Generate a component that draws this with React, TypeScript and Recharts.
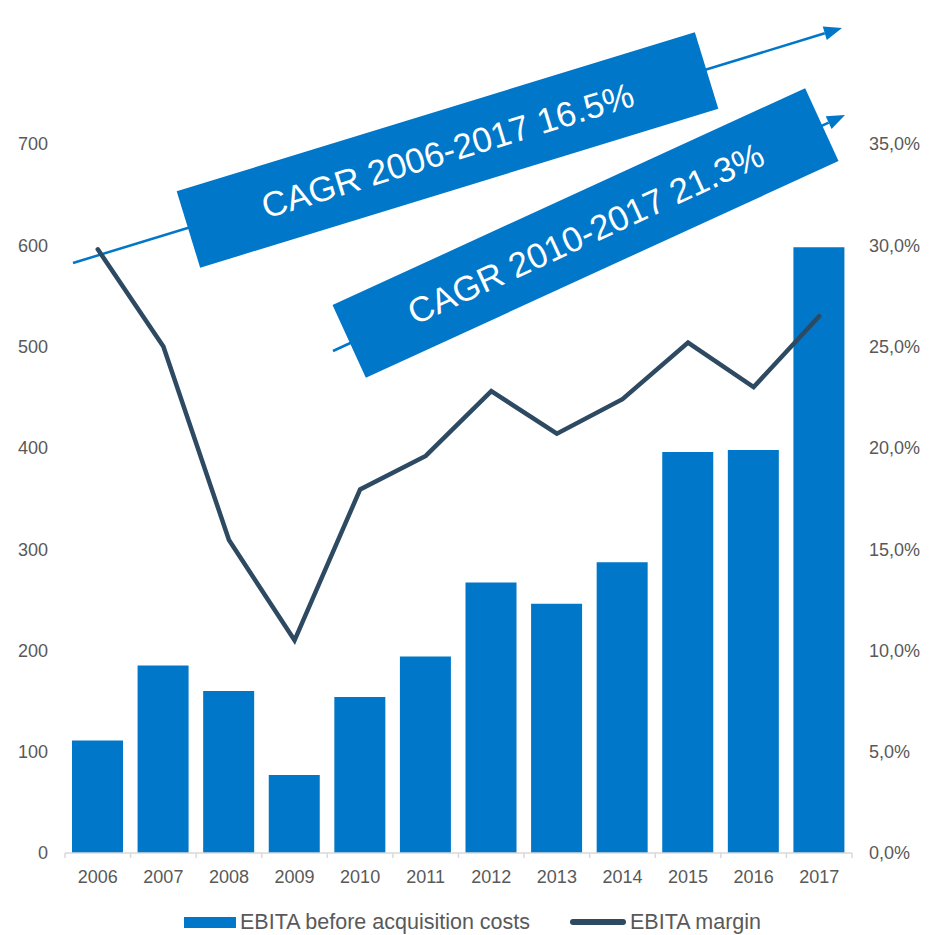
import {
  ComposedChart,
  Bar,
  Line,
  XAxis,
  YAxis,
} from "recharts";

const years = ["2006", "2007", "2008", "2009", "2010", "2011", "2012", "2013", "2014", "2015", "2016", "2017"];
const ebita = [111, 185, 160, 77, 154, 194, 267, 246, 287, 396, 398, 598];
const margin = [29.8, 25.0, 15.45, 10.5, 17.95, 19.6, 22.8, 20.7, 22.4, 25.2, 23.0, 26.5];
const leftTicks = [0, 100, 200, 300, 400, 500, 600, 700];
const rightTicks = [0, 5, 10, 15, 20, 25, 30, 35];
const cagrLabels = ["CAGR 2006-2017 16.5%", "CAGR 2010-2017 21.3%"];
const legendLabels = ["EBITA before acquisition costs", "EBITA margin"];

const data = years.map((year, i) => ({ year, ebita: ebita[i], margin: margin[i] }));

const BLUE = "#0077c8";
const DARK = "#2d4a62";
const GREY = "#595959";
const FONT = "'Liberation Sans', Arial, sans-serif";

const W = 943;
const H = 935;
const PLOT_LEFT = 65;
const PLOT_RIGHT = 852;
const BAND = (PLOT_RIGHT - PLOT_LEFT) / years.length;

// arrows + rotated boxes sit under the chart
const arrows = [
  { x1: 73, y1: 263, x2: 842, y2: 28 },
  { x1: 333, y1: 351, x2: 845, y2: 115 },
];
const boxes = [
  { cx: 447.5, cy: 150, w: 542, h: 80, angle: -17.06 },
  { cx: 585.5, cy: 233, w: 520, h: 80, angle: -24.64 },
];

function Annotations() {
  return (
    <svg width={W} height={H} style={{ position: "absolute", left: 0, top: 0 }}>
      {arrows.map((a, i) => {
        const ang = Math.atan2(a.y2 - a.y1, a.x2 - a.x1);
        const len = 18;
        const half = 7;
        const bx = a.x2 - len * Math.cos(ang);
        const by = a.y2 - len * Math.sin(ang);
        const px = -Math.sin(ang) * half;
        const py = Math.cos(ang) * half;
        return (
          <g key={i}>
            <line x1={a.x1} y1={a.y1} x2={bx} y2={by} stroke={BLUE} strokeWidth={2.5} />
            <polygon
              points={`${a.x2},${a.y2} ${bx + px},${by + py} ${bx - px},${by - py}`}
              fill={BLUE}
            />
          </g>
        );
      })}
      {boxes.map((b, i) => (
        <g key={i} transform={`translate(${b.cx},${b.cy}) rotate(${b.angle})`}>
          <rect x={-b.w / 2} y={-b.h / 2} width={b.w} height={b.h} fill={BLUE} />
          <text
            x={0}
            y={0}
            dy="0.36em"
            textAnchor="middle"
            fill="#fff"
            fontSize={35}
            fontFamily={FONT}
          >
            {cagrLabels[i]}
          </text>
        </g>
      ))}
    </svg>
  );
}

function YearTick(props: any) {
  const { x, y, payload, index } = props;
  const last = index === years.length - 1;
  return (
    <g>
      <line x1={x - BAND / 2} y1={y} x2={x - BAND / 2} y2={y + 5} stroke="#d9d9d9" strokeWidth={1.5} />
      {last && (
        <line x1={x + BAND / 2} y1={y} x2={x + BAND / 2} y2={y + 5} stroke="#d9d9d9" strokeWidth={1.5} />
      )}
      <text x={x} y={y + 30} textAnchor="middle" fill={GREY} fontSize={18} fontFamily={FONT}>
        {payload.value}
      </text>
    </g>
  );
}

function ChartLegend() {
  return (
    <div
      style={{
        position: "absolute",
        left: 184,
        top: 908,
        display: "flex",
        alignItems: "center",
        fontFamily: FONT,
        fontSize: 21.5,
        color: GREY,
        lineHeight: "28px",
      }}
    >
      <span style={{ display: "inline-block", width: 52, height: 11, background: BLUE, marginRight: 4 }} />
      <span>{legendLabels[0]}</span>
      <span
        style={{
          display: "inline-block",
          width: 56,
          height: 6,
          borderRadius: 3,
          background: DARK,
          marginLeft: 40,
          marginRight: 4,
        }}
      />
      <span>{legendLabels[1]}</span>
    </div>
  );
}

export default function App() {
  return (
    <div style={{ position: "absolute", left: 0, top: 0, width: W, height: H, background: "#fff" }}>
      <Annotations />
      <div style={{ position: "absolute", left: 0, top: 0 }}>
        <ComposedChart
          width={W}
          height={H}
          data={data}
          margin={{ top: 144, right: 0, bottom: 52, left: 0 }}
        >
          <XAxis
            dataKey="year"
            height={30}
            tickLine={false}
            tickSize={0}
            tickMargin={0}
            axisLine={{ stroke: "#d9d9d9", strokeWidth: 1.5 }}
            tick={<YearTick />}
            interval={0}
          />
          <YAxis
            yAxisId="left"
            width={65}
            domain={[0, 700]}
            ticks={leftTicks}
            axisLine={false}
            tickLine={false}
            tickSize={0}
            tickMargin={17}
            tick={{ fill: GREY, fontSize: 18, fontFamily: FONT }}
          />
          <YAxis
            yAxisId="right"
            orientation="right"
            width={91}
            domain={[0, 35]}
            ticks={rightTicks}
            axisLine={false}
            tickLine={false}
            tickSize={0}
            tickMargin={17}
            tickFormatter={(v) => `${v.toFixed(1).replace(".", ",")}%`}
            tick={{ fill: GREY, fontSize: 18, fontFamily: FONT, textAnchor: "start" }}
          />
          <Bar yAxisId="left" dataKey="ebita" fill={BLUE} barSize={51} isAnimationActive={false} />
          <Line
            yAxisId="right"
            dataKey="margin"
            type="linear"
            stroke={DARK}
            strokeWidth={4.5}
            strokeLinecap="round"
            dot={false}
            activeDot={false}
            isAnimationActive={false}
          />
        </ComposedChart>
      </div>
      <ChartLegend />
    </div>
  );
}
